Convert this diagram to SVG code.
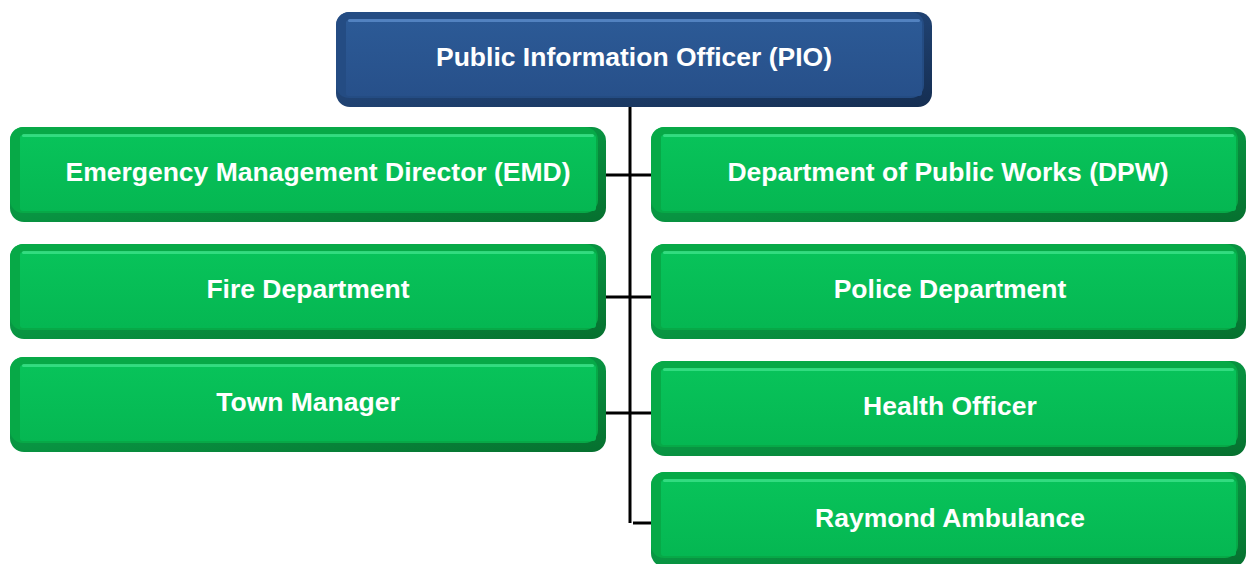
<svg xmlns="http://www.w3.org/2000/svg" width="1246" height="564" viewBox="0 0 1246 564">
<defs>
<linearGradient id="gFace" x1="0" y1="0" x2="0" y2="1">
<stop offset="0" stop-color="#08C35A"/><stop offset="1" stop-color="#05B752"/>
</linearGradient>
<linearGradient id="gEdge" x1="0" y1="0" x2="1" y2="1">
<stop offset="0" stop-color="#0AB653"/><stop offset="1" stop-color="#06702F"/>
</linearGradient>
<linearGradient id="bFace" x1="0" y1="0" x2="0" y2="1">
<stop offset="0" stop-color="#2C5A96"/><stop offset="1" stop-color="#27508A"/>
</linearGradient>
<linearGradient id="bEdge" x1="0" y1="0" x2="1" y2="1">
<stop offset="0" stop-color="#2A5590"/><stop offset="1" stop-color="#152E52"/>
</linearGradient>
</defs>
<style>
.ge{fill:url(#gEdge)}
.gm{fill:#07A947}
.gf{fill:url(#gFace)}
.gh{fill:#3DE28A;opacity:0.8}
.be{fill:url(#bEdge)}
.bm{fill:#244C83}
.bf{fill:url(#bFace)}
.bh{fill:#5C8CCB;opacity:0.8}
.t{font-family:"Liberation Sans",Arial,sans-serif;font-weight:bold;font-size:26.5px;fill:#FFFFFF;text-anchor:middle}
.c{stroke:#000;stroke-width:3;fill:none}
</style>
<g id="connectors">
<line class="c" x1="630" y1="107" x2="630" y2="523"/>
<line class="c" x1="606" y1="175" x2="651" y2="175"/>
<line class="c" x1="606" y1="297" x2="651" y2="297"/>
<line class="c" x1="606" y1="413" x2="651" y2="413"/>
<line class="c" x1="633" y1="523" x2="651" y2="523"/>
</g>
<g id="pio">
<rect class="be" x="336" y="12" width="596" height="95" rx="14"/>
<rect class="bm" x="336" y="12" width="588" height="86" rx="13"/>
<rect class="bf" x="346" y="20" width="576" height="76" rx="3"/>
<rect class="bh" x="348" y="19" width="572" height="3" rx="1.5"/>
<text class="t" x="634" y="66">Public Information Officer (PIO)</text>
</g>
<g id="emd">
<rect class="ge" x="10" y="127" width="596" height="95" rx="14"/>
<rect class="gm" x="10" y="127" width="588" height="86" rx="13"/>
<rect class="gf" x="20" y="135" width="576" height="76" rx="3"/>
<rect class="gh" x="22" y="134" width="572" height="3" rx="1.5"/>
<text class="t" x="318" y="181">Emergency Management Director (EMD)</text>
</g>
<g id="fire">
<rect class="ge" x="10" y="244" width="596" height="95" rx="14"/>
<rect class="gm" x="10" y="244" width="588" height="86" rx="13"/>
<rect class="gf" x="20" y="252" width="576" height="76" rx="3"/>
<rect class="gh" x="22" y="251" width="572" height="3" rx="1.5"/>
<text class="t" x="308" y="298">Fire Department</text>
</g>
<g id="town">
<rect class="ge" x="10" y="357" width="596" height="95" rx="14"/>
<rect class="gm" x="10" y="357" width="588" height="86" rx="13"/>
<rect class="gf" x="20" y="365" width="576" height="76" rx="3"/>
<rect class="gh" x="22" y="364" width="572" height="3" rx="1.5"/>
<text class="t" x="308" y="411">Town Manager</text>
</g>
<g id="dpw">
<rect class="ge" x="651" y="127" width="595" height="95" rx="14"/>
<rect class="gm" x="651" y="127" width="587" height="86" rx="13"/>
<rect class="gf" x="661" y="135" width="575" height="76" rx="3"/>
<rect class="gh" x="663" y="134" width="571" height="3" rx="1.5"/>
<text class="t" x="948" y="181">Department of Public Works (DPW)</text>
</g>
<g id="police">
<rect class="ge" x="651" y="244" width="595" height="95" rx="14"/>
<rect class="gm" x="651" y="244" width="587" height="86" rx="13"/>
<rect class="gf" x="661" y="252" width="575" height="76" rx="3"/>
<rect class="gh" x="663" y="251" width="571" height="3" rx="1.5"/>
<text class="t" x="950" y="298">Police Department</text>
</g>
<g id="health">
<rect class="ge" x="651" y="361" width="595" height="95" rx="14"/>
<rect class="gm" x="651" y="361" width="587" height="86" rx="13"/>
<rect class="gf" x="661" y="369" width="575" height="76" rx="3"/>
<rect class="gh" x="663" y="368" width="571" height="3" rx="1.5"/>
<text class="t" x="950" y="415">Health Officer</text>
</g>
<g id="raymond">
<rect class="ge" x="651" y="472" width="595" height="95" rx="14"/>
<rect class="gm" x="651" y="472" width="587" height="86" rx="13"/>
<rect class="gf" x="661" y="480" width="575" height="76" rx="3"/>
<rect class="gh" x="663" y="479" width="571" height="3" rx="1.5"/>
<text class="t" x="950" y="527">Raymond Ambulance</text>
</g>
</svg>
